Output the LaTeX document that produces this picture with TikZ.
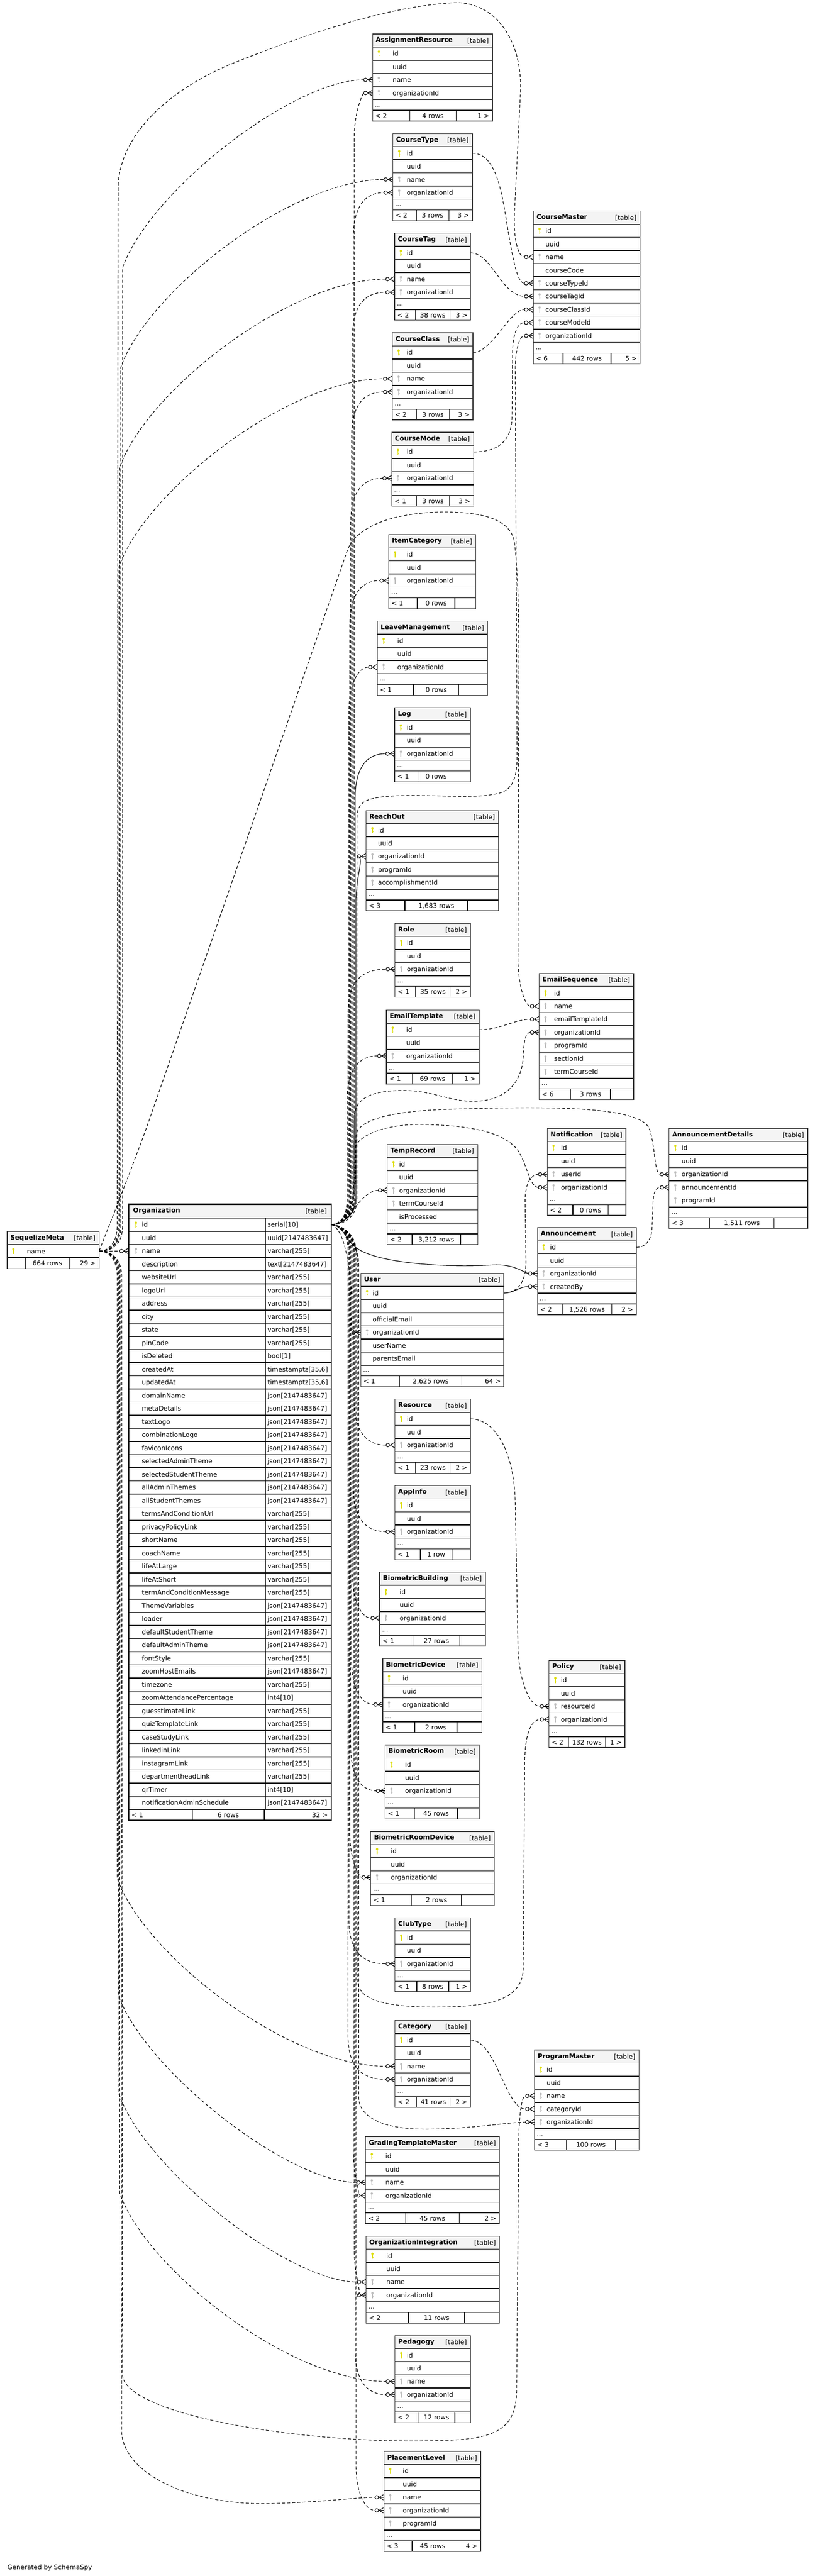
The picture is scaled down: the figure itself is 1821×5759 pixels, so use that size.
\documentclass[tikz,border=0pt]{standalone}
\usepackage{fontspec}
\setmainfont{DejaVu Sans}
\pgfdeclarelayer{bg}
\pgfsetlayers{bg,main}
\definecolor{hdrbg}{HTML}{F4F4F4}
\definecolor{pkc}{HTML}{DDDD00}
\definecolor{fkc}{HTML}{BDBDBD}
\definecolor{tblborder}{HTML}{333333}
\newcommand\tblfont{\fontsize{14.5}{17}\selectfont}
\newcommand\rowh{29.33}
\tikzset{
  fk/.style={line width=1.3pt, dash pattern=on 7pt off 4.5pt},
  fks/.style={line width=1.3pt},
  crowst/.style={line width=1.3pt, solid},
  rowline/.style={line width=1.6pt, draw=black},
  txt/.style={anchor=base west, inner sep=0pt},
  txtr/.style={anchor=base east, inner sep=0pt},
  txtc/.style={anchor=base, inner sep=0pt},
  tblbox/.style={fill=white, inner sep=0pt, outer sep=0pt, anchor=north west, draw=none},
}
\newcommand\keyp[2]{%
  \fill[pkc] (#1,#2-4.5) circle (2.6);
  \draw[pkc, line width=1.8pt] (#1,#2-4) -- (#1,#2+7);
  \draw[pkc, line width=1.2pt] (#1,#2+3.5) -- (#1+2.2,#2+3.5);}
\newcommand\keyf[2]{%
  \fill[fkc] (#1,#2-4.5) circle (2.6);
  \draw[fkc, line width=1.8pt] (#1,#2-4) -- (#1,#2+7);
  \draw[fkc, line width=1.2pt] (#1,#2+3.5) -- (#1+2.2,#2+3.5);}
\newcommand\keyn[2]{}
\def\parsefoot#1#2#3#4#5/#6/#7/#8/#9\relax{%
  \draw[rowline] (#5,#4) -- (#5,#4+24);
  \draw[rowline] (#6,#4) -- (#6,#4+24);
  \node[txt] (#1-fl) at (#2+6,#4+17.5) {#7};
  \node[txtc] (#1-fm) at ({(#5+#6)/2},#4+17.5) {#8};
  \node[txtr] (#1-fr) at (#2+#3-7,#4+17.5) {#9};}
% #1 id #2 title #3 x #4 y #5 w #6 text offset #7 rows #8 row list #9 footer
\newcommand\mktable[9]{%
  \pgfmathsetmacro\tblh{(#7+1)*\rowh+48}%
  \node[tblbox, minimum width=#5pt, minimum height=\tblh pt] (#1) at (#3,#4) {};%
  \fill[hdrbg] (#3,#4) rectangle (#3+#5,#4+\rowh);%
  \node[txt, font=\tblfont\bfseries] (#1-title) at (#3+7,#4+18.5) {#2};%
  \node[txtr] (#1-tag) at (#3+#5-8,#4+20) {[table]};%
  \foreach[count=\ii] \kk/\cname in {#8}{%
    \pgfmathsetmacro\ry{#4+\ii*\rowh}%
    \draw[rowline] (#3,\ry) -- (#3+#5,\ry);%
    \csname key\kk\endcsname{#3+14}{\ry+14.67}%
    \node[txt] (#1-\cname) at (#3+#6,\ry+20) {\cname};%
    \coordinate (#1-\cname-w) at (#3,\ry+14.67);%
    \coordinate (#1-\cname-e) at (#3+#5,\ry+14.67);%
  }%
  \pgfmathsetmacro\dy{#4+(#7+1)*\rowh}%
  \draw[rowline] (#3,\dy) -- (#3+#5,\dy);%
  \node[txt] (#1-dots) at (#3+5,\dy+16) {...};%
  \pgfmathsetmacro\fy{\dy+24}%
  \draw[rowline] (#3,\fy) -- (#3+#5,\fy);%
  \parsefoot{#1}{#3}{#5}{\fy}#9\relax
  \draw[line width=1.6pt, draw=tblborder] (#3,#4) rectangle (#3+#5,\fy+24);%
}
\newcommand\crow[1]{%
  \draw[crowst] ([xshift=-16pt]#1) circle (4pt);
  \draw[crowst] ([xshift=-12pt]#1) -- (#1);
  \draw[crowst] ([xshift=-11pt]#1) -- ([xshift=-1pt,yshift=6pt]#1);
  \draw[crowst] ([xshift=-11pt]#1) -- ([xshift=-1pt,yshift=-6pt]#1);}
% organization family: #2 target, #3 vertical x, #4 target y
\newcommand\orgup[4][fk]{%
  \draw[#1] (org-id-e) .. controls (760,2738) and (#3,2720) .. (#3,2680) -- (#3,#4+100) .. controls (#3,#4+40) and (#3+20,#4) .. ([xshift=-20pt]#2);
  \crow{#2}}
\newcommand\orgdn[4][fk]{%
  \draw[#1] (org-id-e) .. controls (760,2738) and (#3,2756) .. (#3,2796) -- (#3,#4-100) .. controls (#3,#4-40) and (#3+20,#4) .. ([xshift=-20pt]#2);
  \crow{#2}}
% name family
\newcommand\nameup[4][fk]{%
  \draw[#1] (seq-name-e) .. controls (#3-20,2797) and (#3,2780) .. (#3,2740) -- (#3,#4+420) .. controls (#3+60,#4+250) and (#3+380,#4) .. ([xshift=-20pt]#2);
  \crow{#2}}
\newcommand\namedn[4][fk]{%
  \draw[#1] (seq-name-e) .. controls (#3-20,2797) and (#3,2814) .. (#3,2854) -- (#3,#4-420) .. controls (#3+60,#4-250) and (#3+380,#4) .. ([xshift=-20pt]#2);
  \crow{#2}}

\begin{document}
\begin{tikzpicture}[x=1pt,y=-1pt,font=\tblfont]
\useasboundingbox (0,0) rectangle (1821,5759);
\begin{pgfonlayer}{bg}
\fill[white] (0,0) rectangle (1821,5759);
\end{pgfonlayer}

% ---------------- tables on the right ----------------
\mktable{ar}{AssignmentResource}{833}{75.9}{268}{44.6}{4}{p/id,n/uuid,f/name,f/organizationId}{916/1020/< 2/4 rows/1 >}
\mktable{ctype}{CourseType}{878.4}{298.6}{177.8}{30.8}{4}{p/id,n/uuid,f/name,f/organizationId}{930.5/1003.8/< 2/3 rows/3 >}
\mktable{ctag}{CourseTag}{882.3}{521.4}{170}{27}{4}{p/id,n/uuid,f/name,f/organizationId}{928.7/1006.4/< 2/38 rows/3 >}
\mktable{cclass}{CourseClass}{877.1}{744.2}{180.4}{32}{4}{p/id,n/uuid,f/name,f/organizationId}{930.5/1005.5/< 2/3 rows/3 >}
\mktable{cm}{CourseMaster}{1192.4}{472}{238.9}{27}{9}{p/id,n/uuid,f/name,n/courseCode,f/courseTypeId,f/courseTagId,f/courseClassId,f/courseModeId,f/organizationId}{1259/1366/< 6/442 rows/5 >}
\mktable{cmode}{CourseMode}{875.8}{966.5}{183}{33.4}{3}{p/id,n/uuid,f/organizationId}{930.5/1005.5/< 1/3 rows/3 >}
\mktable{icat}{ItemCategory}{869.3}{1195.3}{194.7}{40}{3}{p/id,n/uuid,f/organizationId}{933/1017/< 1/0 rows/}
\mktable{leave}{LeaveManagement}{843.7}{1388.7}{246.8}{44.7}{3}{p/id,n/uuid,f/organizationId}{925/1026/< 1/0 rows/}
\mktable{log}{Log}{882.3}{1582.2}{169.6}{27}{3}{p/id,n/uuid,f/organizationId}{937/1013/< 1/0 rows/}
\mktable{reach}{ReachOut}{818.5}{1812}{296.2}{26.5}{5}{p/id,n/uuid,f/organizationId,f/programId,f/accomplishmentId}{905.5/1045.6/< 3/1,683 rows/}
\mktable{role}{Role}{883}{2064}{169}{26.5}{3}{p/id,n/uuid,f/organizationId}{929.4/1006.4/< 1/35 rows/2 >}
\mktable{et}{EmailTemplate}{864}{2258}{207}{44}{3}{p/id,n/uuid,f/organizationId}{922.8/1011.7/< 1/69 rows/1 >}
\mktable{es}{EmailSequence}{1205.6}{2176}{211.2}{33}{7}{p/id,f/name,f/emailTemplateId,f/organizationId,f/programId,f/sectionId,f/termCourseId}{1275.4/1365/< 6/3 rows/}
\mktable{notif}{Notification}{1223.6}{2522.6}{175.9}{30.5}{4}{p/id,n/uuid,f/userId,f/organizationId}{1280.7/1359.7/< 2/0 rows/}
\mktable{ad}{AnnouncementDetails}{1495.8}{2522.6}{310.2}{28}{5}{p/id,n/uuid,f/organizationId,f/announcementId,f/programId}{1586.8/1730.9/< 3/1,511 rows/}
\mktable{tr}{TempRecord}{865.7}{2558.5}{202.3}{26.5}{5}{p/id,n/uuid,f/organizationId,f/termCourseId,n/isProcessed}{921.4/1029.7/< 2/3,212 rows/}
\mktable{ann}{Announcement}{1201.6}{2744.5}{221.2}{28}{4}{p/id,n/uuid,f/organizationId,f/createdBy}{1257.4/1367.6/< 2/1,526 rows/2 >}
\mktable{user}{User}{806.6}{2846.7}{320}{26.5}{6}{p/id,n/uuid,n/officialEmail,f/organizationId,n/userName,n/parentsEmail}{893.5/1032.3/< 1/2,625 rows/64 >}
\mktable{res}{Resource}{883}{3128}{169}{26.5}{3}{p/id,n/uuid,f/organizationId}{929.4/1006.4/< 1/23 rows/2 >}
\mktable{app}{AppInfo}{883}{3321.5}{169}{26.5}{3}{p/id,n/uuid,f/organizationId}{940/1010.4/< 1/1 row/}
\mktable{bbld}{BiometricBuilding}{849}{3514.7}{236.4}{44.5}{3}{p/id,n/uuid,f/organizationId}{923.4/1027.7/< 1/27 rows/}
\mktable{bdev}{BiometricDevice}{855.7}{3708}{221.8}{44.5}{3}{p/id,n/uuid,f/organizationId}{927.4/1021.7/< 1/2 rows/}
\mktable{pol}{Policy}{1227.5}{3712}{169.5}{26.5}{4}{p/id,n/uuid,f/resourceId,f/organizationId}{1270.7/1353.7/< 2/132 rows/1 >}
\mktable{broom}{BiometricRoom}{861}{3901}{211}{44.5}{3}{p/id,n/uuid,f/organizationId}{926.7/1023/< 1/45 rows/}
\mktable{brd}{BiometricRoomDevice}{829}{4094.4}{276.4}{44.6}{3}{p/id,n/uuid,f/organizationId}{920/1032/< 1/2 rows/}
\mktable{club}{ClubType}{883}{4287.6}{169}{26.5}{3}{p/id,n/uuid,f/organizationId}{932/1003/< 1/8 rows/1 >}
\mktable{cat}{Category}{883}{4516.7}{169}{26.5}{4}{p/id,n/uuid,f/name,f/organizationId}{931/1006.4/< 2/41 rows/2 >}
\mktable{pm}{ProgramMaster}{1195}{4583}{233.7}{27}{5}{p/id,n/uuid,f/name,f/categoryId,f/organizationId}{1266.7/1375.6/< 3/100 rows/}
\mktable{gtm}{GradingTemplateMaster}{817.2}{4776.4}{299.5}{44.5}{4}{p/id,n/uuid,f/name,f/organizationId}{906.8/1027/< 2/45 rows/2 >}
\mktable{oi}{OrganizationIntegration}{818.5}{4999}{298.2}{45}{4}{p/id,n/uuid,f/name,f/organizationId}{913.5/1039/< 2/11 rows/}
\mktable{ped}{Pedagogy}{883}{5221.3}{169}{26.5}{4}{p/id,n/uuid,f/name,f/organizationId}{934.7/1017/< 2/12 rows/}
\mktable{pl}{PlacementLevel}{858.4}{5480.3}{216.4}{42}{5}{p/id,n/uuid,f/name,f/organizationId,f/programId}{921.4/1013/< 3/45 rows/4 >}

% ---------------- SequelizeMeta ----------------
\node[tblbox, minimum width=205.5pt, minimum height=83pt] (seq) at (16,2753) {};
\fill[hdrbg] (16,2753) rectangle (221.5,2782.4);
\node[txt, font=\tblfont\bfseries] (seq-title) at (23,2771.5) {SequelizeMeta};
\node[txtr] (seq-tag) at (213.5,2773.4) {[table]};
\draw[rowline] (16,2782.4) -- (221.5,2782.4);
\keyp{30}{2797}
\node[txt] (seq-name) at (60,2802.4) {name};
\coordinate (seq-name-e) at (221.5,2797);
\draw[rowline] (16,2811.7) -- (221.5,2811.7);
\draw[rowline] (57,2811.7) -- (57,2836);
\draw[rowline] (155,2811.7) -- (155,2836);
\node[txtc] (seq-fm) at (106,2829) {664 rows};
\node[txtr] (seq-fr) at (214,2829) {29 >};
\draw[line width=1.6pt, draw=tblborder] (16,2753) rectangle (221.5,2836);

% ---------------- Organization ----------------
\node[tblbox, minimum width=453.1pt, minimum height=1377.5pt] (org) at (287.5,2692) {};
\fill[hdrbg] (287.5,2692) rectangle (740.6,2723.4);
\node[txt, font=\tblfont\bfseries] (org-title) at (297.5,2710.5) {Organization};
\node[txtr] (org-tag) at (731,2712.5) {[table]};
\foreach[count=\ii] \kk/\cname/\ctyp in {p/id/serial[10],n/uuid/uuid[2147483647],f/name/varchar[255],n/description/text[2147483647],n/websiteUrl/varchar[255],n/logoUrl/varchar[255],n/address/varchar[255],n/city/varchar[255],n/state/varchar[255],n/pinCode/varchar[255],n/isDeleted/bool[1],n/createdAt/{timestamptz[35,6]},n/updatedAt/{timestamptz[35,6]},n/domainName/json[2147483647],n/metaDetails/json[2147483647],n/textLogo/json[2147483647],n/combinationLogo/json[2147483647],n/faviconIcons/json[2147483647],n/selectedAdminTheme/json[2147483647],n/selectedStudentTheme/json[2147483647],n/allAdminThemes/json[2147483647],n/allStudentThemes/json[2147483647],n/termsAndConditionUrl/varchar[255],n/privacyPolicyLink/varchar[255],n/shortName/varchar[255],n/coachName/varchar[255],n/lifeAtLarge/varchar[255],n/lifeAtShort/varchar[255],n/termAndConditionMessage/varchar[255],n/ThemeVariables/json[2147483647],n/loader/json[2147483647],n/defaultStudentTheme/json[2147483647],n/defaultAdminTheme/json[2147483647],n/fontStyle/varchar[255],n/zoomHostEmails/json[2147483647],n/timezone/varchar[255],n/zoomAttendancePercentage/int4[10],n/guesstimateLink/varchar[255],n/quizTemplateLink/varchar[255],n/caseStudyLink/varchar[255],n/linkedinLink/varchar[255],n/instagramLink/varchar[255],n/departmentheadLink/varchar[255],n/qrTimer/int4[10],n/notificationAdminSchedule/json[2147483647]}{
  \pgfmathsetmacro\ry{2723.4+(\ii-1)*29.37}
  \draw[rowline] (287.5,\ry) -- (740.6,\ry);
  \csname key\kk\endcsname{304}{\ry+14.7}
  \node[txt] (org-\cname) at (317,\ry+20) {\cname};
  \node[txt] (org-\cname-type) at (598,\ry+20) {\ctyp};
  \coordinate (org-\cname-w) at (287.5,\ry+14.7);
  \coordinate (org-\cname-e) at (740.6,\ry+14.7);
}
\draw[rowline] (594,2723.4) -- (594,4045.1);
\draw[rowline] (287.5,4045.1) -- (740.6,4045.1);
\draw[rowline] (430,4045.1) -- (430,4069.5);
\draw[rowline] (591,4045.1) -- (591,4069.5);
\node[txt] (org-fl) at (294,4062.5) {< 1};
\node[txtc] (org-fm) at (510.5,4062.5) {6 rows};
\node[txtr] (org-fr) at (733,4062.5) {32 >};
\draw[line width=3pt] (287.5,2692) rectangle (740.6,4069.5);

\node[txt] (gen) at (16.4,5744) {Generated by SchemaSpy};

% ---------------- connectors ----------------
\begin{pgfonlayer}{bg}
% name family (SequelizeMeta.name)
\draw[fk] (seq-name-e) -- ([xshift=-20pt]org-name-w); \crow{org-name-w}
\nameup{ar-name-w}{274}{178.5}
\nameup{ctype-name-w}{270}{401.3}
\nameup{ctag-name-w}{268}{624.1}
\nameup{cclass-name-w}{266}{846.9}
\draw[fk] (seq-name-e) .. controls (242,2797) and (262,2780) .. (262,2740) -- (264,420) .. controls (266,300) and (380,200) .. (517,143) .. controls (650,90) and (850,15) .. (1014,6) .. controls (1100,2) and (1166,80) .. (1164,200) -- (1150,480) .. controls (1148,540) and (1160,575) .. ([xshift=-20pt]cm-name-w); \crow{cm-name-w}
\draw[fk] (seq-name-e) .. controls (232,2770) and (300,2600) .. (335,2500) -- (776,1232) .. controls (790,1190) and (850,1150) .. (975,1145) .. controls (1090,1142) and (1140,1165) .. (1150,1210) .. controls (1160,1300) and (1160,1400) .. (1160,1500) -- (1158,2150) .. controls (1160,2210) and (1175,2249) .. ([xshift=-20pt]es-name-w); \crow{es-name-w}
\namedn{cat-name-w}{262}{4619.4}
\namedn{gtm-name-w}{264}{4879.1}
\namedn{oi-name-w}{266}{5101.7}
\namedn{ped-name-w}{268}{5324}
\draw[fk] (seq-name-e) .. controls (250,2797) and (270,2814) .. (270,2854) -- (272,5440) .. controls (280,5530) and (420,5600) .. (600,5597) .. controls (720,5594) and (800,5583) .. ([xshift=-20pt]pl-name-w); \crow{pl-name-w}
\draw[fk] (seq-name-e) .. controls (250,2797) and (272,2814) .. (272,2854) -- (274,5310) .. controls (280,5400) and (700,5470) .. (1012,5455) .. controls (1120,5450) and (1152,5420) .. (1155,5350) -- (1160,4770) .. controls (1162,4725) and (1166,4686) .. ([xshift=-20pt]pm-name-w); \crow{pm-name-w}

% organization family (Organization.id)
\orgup{ar-organizationId-w}{792}{207.9}
\orgup{ctype-organizationId-w}{790}{430.6}
\orgup{ctag-organizationId-w}{788}{653.4}
\orgup{cclass-organizationId-w}{786}{876.2}
\orgup{cmode-organizationId-w}{784}{1069.2}
\orgup{icat-organizationId-w}{782}{1298}
\orgup{leave-organizationId-w}{780}{1491.4}
\orgup[fks]{log-organizationId-w}{794}{1684.9}
\orgup[fks]{reach-organizationId-w}{796}{1914.7}
\orgup{role-organizationId-w}{778}{2166.7}
\orgup{et-organizationId-w}{776}{2360.7}
\orgdn{res-organizationId-w}{792}{3230.7}
\orgdn{app-organizationId-w}{790}{3424.2}
\orgdn{bbld-organizationId-w}{788}{3617.4}
\orgdn{bdev-organizationId-w}{786}{3810.7}
\orgdn{broom-organizationId-w}{784}{4003.7}
\orgdn{brd-organizationId-w}{782}{4197.1}
\orgdn{club-organizationId-w}{780}{4390.3}
\orgdn{cat-organizationId-w}{778}{4648.7}
\orgdn{gtm-organizationId-w}{790}{4908.4}
\orgdn{oi-organizationId-w}{792}{5131}
\orgdn{ped-organizationId-w}{794}{5353.3}
\orgdn{pl-organizationId-w}{796}{5612.3}
\draw[fk] (org-id-e) .. controls (768,2738) and (798,2722) .. (798,2680) -- (798,1830) .. controls (798,1795) and (815,1786) .. (860,1781) .. controls (950,1772) and (1060,1790) .. (1120,1772) .. controls (1150,1762) and (1156,1730) .. (1156,1690) -- (1152,830) .. controls (1151,790) and (1160,751) .. ([xshift=-20pt]cm-organizationId-w); \crow{cm-organizationId-w}
\draw[fk] (org-id-e) .. controls (768,2736) and (790,2700) .. (791,2650) -- (792,2500) .. controls (793,2460) and (820,2440) .. (893,2438) .. controls (960,2436) and (1000,2460) .. (1050,2462) .. controls (1130,2465) and (1168,2420) .. (1170,2360) .. controls (1171,2330) and (1175,2308) .. ([xshift=-20pt]es-organizationId-w); \crow{es-organizationId-w}
\draw[fk] (org-id-e) .. controls (768,2736) and (792,2700) .. (793,2640) -- (794,2570) .. controls (795,2540) and (860,2512) .. (946,2514) .. controls (1050,2516) and (1130,2530) .. (1160,2575) .. controls (1180,2610) and (1185,2654) .. ([xshift=-20pt]notif-organizationId-w); \crow{notif-organizationId-w}
\draw[fk] (org-id-e) .. controls (768,2736) and (794,2700) .. (795,2640) -- (796,2540) .. controls (797,2510) and (850,2485) .. (1000,2480) .. controls (1200,2474) and (1420,2470) .. (1450,2520) .. controls (1465,2550) and (1462,2625) .. ([xshift=-20pt]ad-organizationId-w); \crow{ad-organizationId-w}
\draw[fk] (org-id-e) .. controls (782,2736) and (805,2662) .. ([xshift=-20pt]tr-organizationId-w); \crow{tr-organizationId-w}
\draw[fks] (org-id-e) .. controls (770,2740) and (772,2775) .. (800,2792) .. controls (850,2825) and (1000,2834) .. (1100,2828) .. controls (1150,2825) and (1170,2845) .. ([xshift=-20pt]ann-organizationId-w); \crow{ann-organizationId-w}
\draw[fk] (org-id-e) .. controls (772,2745) and (786,2850) .. (786,2920) .. controls (786,2955) and (782,2978) .. ([xshift=-20pt]user-organizationId-w); \crow{user-organizationId-w}
\draw[fk] (org-id-e) .. controls (770,2742) and (800,2770) .. (800,2830) -- (800,4430) .. controls (801,4470) and (860,4488) .. (980,4487) .. controls (1100,4486) and (1168,4470) .. (1170,4400) -- (1173,3940) .. controls (1174,3880) and (1185,3846) .. ([xshift=-20pt]pol-organizationId-w); \crow{pol-organizationId-w}
\draw[fk] (org-id-e) .. controls (770,2742) and (802,2770) .. (802,2830) -- (802,4690) .. controls (803,4730) and (850,4760) .. (950,4760) .. controls (1050,4760) and (1130,4745) .. ([xshift=-20pt]pm-organizationId-w); \crow{pm-organizationId-w}

% other relations
\draw[fk] (ctype-id-e) .. controls (1110,343) and (1122,430) .. (1135,510) .. controls (1148,590) and (1158,633) .. ([xshift=-20pt]cm-courseTypeId-w); \crow{cm-courseTypeId-w}
\draw[fk] (ctag-id-e) .. controls (1100,566) and (1120,660) .. ([xshift=-20pt]cm-courseTagId-w); \crow{cm-courseTagId-w}
\draw[fk] (cclass-id-e) .. controls (1100,788) and (1140,692) .. ([xshift=-20pt]cm-courseClassId-w); \crow{cm-courseClassId-w}
\draw[fk] (cmode-id-e) .. controls (1110,1010) and (1144,990) .. (1145,930) -- (1146,790) .. controls (1146,745) and (1158,721) .. ([xshift=-20pt]cm-courseModeId-w); \crow{cm-courseModeId-w}
\draw[fk] (et-id-e) .. controls (1120,2302) and (1150,2279) .. ([xshift=-20pt]es-emailTemplateId-w); \crow{es-emailTemplateId-w}
\draw[fks] (user-id-e) .. controls (1150,2891) and (1160,2876) .. ([xshift=-20pt]ann-createdBy-w); \crow{ann-createdBy-w}
\draw[fk] (user-id-e) .. controls (1155,2890) and (1176,2870) .. (1176,2820) -- (1174,2690) .. controls (1173,2650) and (1185,2626) .. ([xshift=-20pt]notif-userId-w); \crow{notif-userId-w}
\draw[fk] (ann-id-e) .. controls (1445,2789) and (1458,2770) .. (1458,2740) -- (1460,2690) .. controls (1461,2665) and (1466,2655) .. ([xshift=-20pt]ad-announcementId-w); \crow{ad-announcementId-w}
\draw[fk] (res-id-e) .. controls (1110,3173) and (1150,3250) .. (1152,3360) -- (1158,3680) .. controls (1160,3760) and (1185,3815) .. ([xshift=-20pt]pol-resourceId-w); \crow{pol-resourceId-w}
\draw[fk] (cat-id-e) .. controls (1110,4562) and (1130,4715) .. ([xshift=-20pt]pm-categoryId-w); \crow{pm-categoryId-w}
\end{pgfonlayer}
\end{tikzpicture}
\end{document}
